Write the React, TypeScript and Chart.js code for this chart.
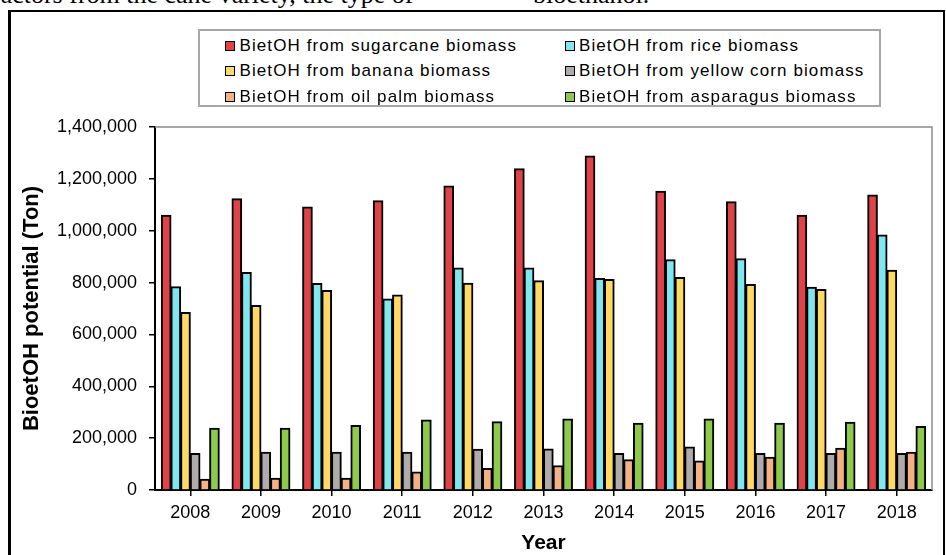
import React, { useEffect, useRef } from "react";
import { Chart, registerables } from "chart.js";

Chart.register(...registerables);

const years = ["2008", "2009", "2010", "2011", "2012", "2013", "2014", "2015", "2016", "2017", "2018"];

const sugarcane = [1060000, 1123000, 1091000, 1116000, 1172000, 1239000, 1288000, 1152000, 1112000, 1060000, 1138000];
const rice = [784000, 839000, 796000, 737000, 856000, 856000, 816000, 888000, 892000, 782000, 983000];
const banana = [685000, 712000, 769000, 752000, 797000, 807000, 812000, 820000, 793000, 773000, 848000];
const yellowCorn = [141000, 146000, 146000, 146000, 157000, 158000, 141000, 166000, 141000, 141000, 141000];
const oilPalm = [41000, 45000, 45000, 69000, 83000, 94000, 117000, 112000, 126000, 161000, 146000];
const asparagus = [238000, 238000, 249000, 270000, 263000, 274000, 257000, 274000, 257000, 261000, 245000];

const seriesLabels = [
  "BietOH from sugarcane biomass",
  "BietOH from rice biomass",
  "BietOH from banana biomass",
  "BietOH from yellow corn biomass",
  "BietOH from oil palm biomass",
  "BietOH from asparagus biomass",
];
const seriesValues = [sugarcane, rice, banana, yellowCorn, oilPalm, asparagus];
const seriesColors = ["#DF4347", "#80E6EF", "#FFD966", "#AFABAB", "#F4B183", "#8DC94B"];

const yTicks = [0, 200000, 400000, 600000, 800000, 1000000, 1200000, 1400000];

const plotFrame = {
  id: "plotFrame",
  afterDatasetsDraw(chart: any) {
    const { ctx, chartArea } = chart;
    ctx.save();
    ctx.strokeStyle = "#8c8c8c";
    ctx.lineWidth = 1.5;
    ctx.beginPath();
    ctx.moveTo(chartArea.left, chartArea.top);
    ctx.lineTo(chartArea.right, chartArea.top);
    ctx.lineTo(chartArea.right, chartArea.bottom);
    ctx.stroke();
    ctx.restore();
  },
};

function ChartCanvas() {
  const ref = useRef<HTMLCanvasElement>(null);
  useEffect(() => {
    if (!ref.current) return;
    const chart = new Chart(ref.current, {
      type: "bar",
      data: {
        labels: years,
        datasets: seriesLabels.map((label, i) => ({
          label,
          data: seriesValues[i],
          backgroundColor: seriesColors[i],
          borderColor: "#000000",
          borderWidth: 2,
          categoryPercentage: 0.82,
          barPercentage: 1.0,
          inflateAmount: 0.5,
        })),
      },
      options: {
        animation: false,
        responsive: false,
        devicePixelRatio: 1,
        datasets: {
          bar: { categoryPercentage: 0.82, barPercentage: 1.0 },
        },
        layout: { padding: { top: 127, right: 14, left: 0, bottom: 0 } },
        plugins: {
          legend: { display: false },
          tooltip: { enabled: false },
        },
        scales: {
          x: {
            type: "category",
            offset: true,
            afterFit: (scale: any) => {
              scale.height = 65;
            },
            grid: {
              offset: false,
              drawOnChartArea: false,
              drawTicks: true,
              tickLength: 6,
              color: "#000000",
              lineWidth: 1.5,
            },
            border: { display: true, color: "#000000", width: 2 },
            ticks: {
              color: "#000000",
              font: { family: "Arial, 'Liberation Sans', sans-serif", size: 18 },
              padding: 6,
              maxRotation: 0,
              autoSkip: false,
            },
            title: {
              display: true,
              text: "Year",
              color: "#000000",
              font: { family: "Arial, 'Liberation Sans', sans-serif", size: 21, weight: "bold", lineHeight: 1 },
              padding: { top: 0, bottom: 1 },
            },
          },
          y: {
            min: 0,
            max: 1400000,
            afterFit: (scale: any) => {
              scale.width = 155;
            },
            afterBuildTicks: (scale: any) => {
              scale.ticks = yTicks.map((v) => ({ value: v }));
            },
            grid: {
              drawOnChartArea: false,
              drawTicks: true,
              tickLength: 6,
              color: "#000000",
              lineWidth: 1.5,
            },
            border: { display: true, color: "#000000", width: 2 },
            ticks: {
              color: "#000000",
              font: { family: "Arial, 'Liberation Sans', sans-serif", size: 18 },
              padding: 12,
              callback: (v: any) => Number(v).toLocaleString("en-US"),
            },
            title: {
              display: true,
              text: "BioetOH potential (Ton)",
              color: "#000000",
              font: { family: "Arial, 'Liberation Sans', sans-serif", size: 22, weight: "bold", lineHeight: 1 },
              padding: { top: 21, bottom: 0 },
            },
          },
        },
      },
      plugins: [plotFrame],
    });
    return () => chart.destroy();
  }, []);
  return (
    <canvas
      ref={ref}
      width={946}
      height={555}
      style={{ position: "absolute", left: 0, top: 0, width: 946, height: 555 }}
    />
  );
}

function Legend() {
  const rowCenters = [44, 69, 95];
  const colSwatch = [223, 562.5];
  return (
    <div
      style={{
        position: "absolute",
        left: 198,
        top: 29,
        width: 683,
        height: 78,
        border: "2px solid #a6a6a6",
        boxSizing: "border-box",
        background: "#ffffff",
      }}
    >
      {seriesLabels.map((label, i) => {
        const row = Math.floor(i / 2);
        const col = i % 2;
        return (
          <div
            key={label}
            style={{
              position: "absolute",
              left: colSwatch[col] - 198,
              top: rowCenters[row] - 29 - 11,
              height: 22,
              display: "flex",
              alignItems: "center",
              whiteSpace: "nowrap",
            }}
          >
            <span
              style={{
                display: "inline-block",
                width: 10,
                height: 10,
                boxSizing: "border-box",
                border: "1.5px solid #000",
                background: seriesColors[i],
                marginRight: 4.5,
              }}
            />
            <span
              style={{
                fontFamily: "Arial, 'Liberation Sans', sans-serif",
                fontSize: 17,
                letterSpacing: "1.1px",
                color: "#000",
                lineHeight: "22px",
              }}
            >
              {label}
            </span>
          </div>
        );
      })}
    </div>
  );
}

export default function App() {
  return (
    <div
      style={{
        position: "fixed",
        left: 0,
        top: 0,
        width: 946,
        height: 555,
        overflow: "hidden",
        background: "#ffffff",
      }}
    >
      <div
        style={{
          position: "absolute",
          left: -8,
          top: -18,
          fontFamily: "'Liberation Serif', 'Times New Roman', serif",
          fontSize: 26,
          lineHeight: "26px",
          whiteSpace: "nowrap",
          color: "#000",
        }}
      >
        factors from the cane variety, the type of
      </div>
      <div
        style={{
          position: "absolute",
          left: 533,
          top: -18,
          fontFamily: "'Liberation Serif', 'Times New Roman', serif",
          fontSize: 26,
          lineHeight: "26px",
          whiteSpace: "nowrap",
          color: "#000",
        }}
      >
        bioethanol.
      </div>
      <div
        style={{
          position: "absolute",
          left: 8,
          top: 10,
          width: 937,
          height: 600,
          borderTop: "2.5px solid #000",
          borderLeft: "3px solid #000",
          borderRight: "2px solid #000",
          boxSizing: "border-box",
        }}
      />
      <ChartCanvas />
      <Legend />
    </div>
  );
}
